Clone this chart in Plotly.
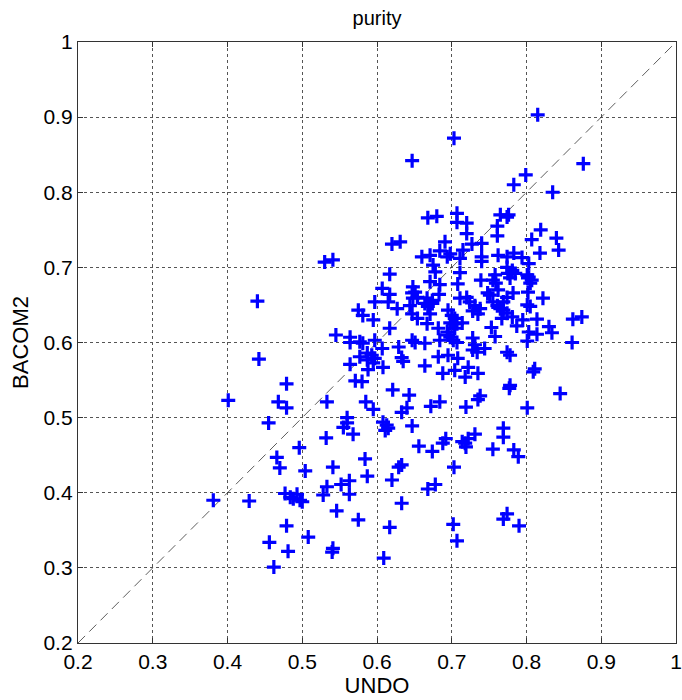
import plotly.graph_objects as go

# Per-sample purity estimates from the two methods
undo = [
    0.381, 0.440, 0.442, 0.401, 0.479, 0.468, 0.479, 0.530, 0.541, 0.545,
    0.564, 0.564, 0.564, 0.571, 0.533, 0.560, 0.455,
    0.555, 0.560, 0.568, 0.532, 0.496, 0.466, 0.470, 0.504, 0.541, 0.533,
    0.552, 0.563, 0.563, 0.528, 0.477, 0.484, 0.493, 0.497, 0.500, 0.488,
    0.429, 0.546, 0.575, 0.479, 0.508, 0.456, 0.481, 0.541, 0.540, 0.462,
    0.608, 0.613, 0.611, 0.615, 0.647, 0.584, 0.587, 0.620, 0.629, 0.633,
    0.656, 0.674, 0.688, 0.692, 0.668, 0.678, 0.703, 0.633, 0.617, 0.609,
    0.702, 0.707, 0.714, 0.718, 0.719, 0.722, 0.731, 0.755, 0.769, 0.769,
    0.783, 0.789, 0.769, 0.774, 0.790, 0.845, 0.801,
    0.803, 0.801, 0.802, 0.807, 0.805, 0.803, 0.802, 0.822, 0.801, 0.805,
    0.795, 0.814, 0.803, 0.814, 0.830, 0.834, 0.862, 0.874, 0.801, 0.861,
    0.811, 0.809,
    0.815, 0.876, 0.799, 0.835, 0.819, 0.807, 0.840, 0.818, 0.843, 0.794,
    0.703, 0.647, 0.783, 0.668, 0.680, 0.707, 0.707, 0.720, 0.720, 0.765,
    0.776, 0.774, 0.761, 0.761, 0.620, 0.631, 0.691, 0.684, 0.715, 0.727,
    0.740, 0.660, 0.671, 0.694, 0.698, 0.711, 0.740, 0.762, 0.774, 0.783,
    0.617, 0.675, 0.678, 0.711, 0.740, 0.739, 0.758, 0.755, 0.759, 0.774,
    0.781, 0.785, 0.778, 0.775, 0.782, 0.774, 0.769, 0.762, 0.748, 0.708,
    0.671, 0.684, 0.683, 0.607, 0.617, 0.615, 0.648, 0.651, 0.647, 0.654,
    0.648, 0.667, 0.674, 0.664, 0.668, 0.674, 0.597, 0.627, 0.644, 0.575,
    0.581, 0.595, 0.647, 0.654, 0.671, 0.667, 0.711, 0.720, 0.724, 0.731,
    0.738, 0.735, 0.728, 0.751, 0.755, 0.761, 0.765, 0.769, 0.774, 0.767,
    0.781, 0.787, 0.695, 0.700, 0.704, 0.702, 0.698, 0.707, 0.714, 0.704,
    0.617, 0.682, 0.753, 0.758, 0.694, 0.698, 0.702, 0.707, 0.695, 0.684,
    0.647, 0.651, 0.664, 0.581, 0.597, 0.728, 0.731, 0.728, 0.734, 0.744,
    0.774, 0.778, 0.629, 0.607, 0.587, 0.593, 0.597, 0.587, 0.595, 0.588,
    0.577, 0.577, 0.580, 0.608, 0.633, 0.635, 0.682, 0.695, 0.708, 0.664,
    0.704, 0.722, 0.688, 0.718, 0.735, 0.621, 0.643, 0.684, 0.672, 0.585,
    0.595, 0.640, 0.633, 0.719, 0.738, 0.735, 0.778, 0.777,
]
bacom2 = [
    0.390, 0.655, 0.578, 0.523, 0.545, 0.521, 0.513, 0.707, 0.710, 0.610,
    0.607, 0.600, 0.571, 0.549, 0.521, 0.500, 0.493,
    0.487, 0.493, 0.478, 0.473, 0.460, 0.447, 0.433, 0.429, 0.434, 0.408,
    0.411, 0.416, 0.398, 0.397, 0.399, 0.394, 0.398, 0.390, 0.388, 0.392,
    0.389, 0.376, 0.364, 0.356, 0.341, 0.334, 0.322, 0.326, 0.321, 0.301,
    0.494, 0.490, 0.483, 0.486, 0.489, 0.445, 0.422, 0.417, 0.434, 0.437,
    0.462, 0.455, 0.466, 0.472, 0.405, 0.411, 0.434, 0.386, 0.354, 0.313,
    0.358, 0.336, 0.468, 0.466, 0.461, 0.472, 0.478, 0.458, 0.486, 0.474,
    0.457, 0.448, 0.365, 0.372, 0.356, 0.532, 0.513,
    0.705, 0.690, 0.686, 0.683, 0.679, 0.687, 0.667, 0.659, 0.650, 0.648,
    0.630, 0.631, 0.614, 0.611, 0.621, 0.613, 0.631, 0.634, 0.602, 0.600,
    0.565, 0.561,
    0.903, 0.838, 0.823, 0.800, 0.750, 0.737, 0.739, 0.719, 0.723, 0.713,
    0.872, 0.842, 0.810, 0.766, 0.768, 0.772, 0.760, 0.759, 0.745, 0.770,
    0.770, 0.767, 0.755, 0.742, 0.731, 0.734, 0.734, 0.722, 0.723, 0.731,
    0.732, 0.714, 0.716, 0.714, 0.718, 0.712, 0.714, 0.716, 0.714, 0.719,
    0.691, 0.703, 0.694, 0.693, 0.708, 0.683, 0.690, 0.683, 0.679, 0.700,
    0.696, 0.692, 0.686, 0.692, 0.666, 0.660, 0.654, 0.670, 0.666, 0.678,
    0.681, 0.677, 0.664, 0.672, 0.664, 0.654, 0.674, 0.667, 0.666, 0.660,
    0.659, 0.659, 0.656, 0.652, 0.648, 0.652, 0.654, 0.645, 0.649, 0.643,
    0.636, 0.630, 0.638, 0.632, 0.638, 0.625, 0.659, 0.660, 0.654, 0.649,
    0.645, 0.638, 0.642, 0.663, 0.654, 0.649, 0.645, 0.643, 0.639, 0.632,
    0.634, 0.622, 0.643, 0.636, 0.632, 0.625, 0.626, 0.625, 0.626, 0.619,
    0.619, 0.619, 0.620, 0.608, 0.614, 0.607, 0.603, 0.600, 0.610, 0.603,
    0.603, 0.600, 0.599, 0.599, 0.603, 0.606, 0.597, 0.590, 0.587, 0.592,
    0.587, 0.583, 0.594, 0.592, 0.586, 0.583, 0.579, 0.577, 0.573, 0.564,
    0.601, 0.581, 0.548, 0.567, 0.580, 0.575, 0.581, 0.583, 0.579, 0.569,
    0.563, 0.567, 0.559, 0.554, 0.559, 0.537, 0.530, 0.521, 0.515, 0.521,
    0.511, 0.513, 0.507, 0.514, 0.529, 0.524, 0.543, 0.539,
]

ticks = [0.2, 0.3, 0.4, 0.5, 0.6, 0.7, 0.8, 0.9, 1.0]
tick_text = ["0.2", "0.3", "0.4", "0.5", "0.6", "0.7", "0.8", "0.9", "1"]

font_family = "Liberation Sans, Arial, sans-serif"

fig = go.Figure()

# y = x reference line
fig.add_trace(go.Scatter(
    x=[ticks[0], ticks[-1]], y=[ticks[0], ticks[-1]],
    mode="lines",
    line=dict(color="#333333", width=0.8, dash="10px,6px"),
    hoverinfo="skip", showlegend=False,
))

fig.add_trace(go.Scatter(
    x=undo, y=bacom2, mode="markers",
    marker=dict(symbol="cross-thin", size=10,
                line=dict(color="#0000ff", width=3.2)),
    showlegend=False,
))

axis_common = dict(
    range=[ticks[0], ticks[-1]],
    tickvals=ticks, ticktext=tick_text,
    showgrid=True, gridcolor="#555555", gridwidth=1, griddash="dot",
    showline=True, linecolor="#333333", linewidth=1.3, mirror="ticks",
    ticks="inside", ticklen=5, tickcolor="#333333", tickwidth=1,
    zeroline=False, automargin=False,
    tickfont=dict(family=font_family, size=21, color="#000000"),
    title_font=dict(family=font_family, size=22, color="#000000"),
    fixedrange=True,
)

fig.update_xaxes(**axis_common, title_text="UNDO", title_standoff=0)
fig.update_yaxes(**axis_common, title_text="BACOM2", title_standoff=8)

fig.update_layout(
    width=682, height=700,
    margin=dict(l=78, r=6, t=42, b=57),
    plot_bgcolor="white", paper_bgcolor="white",
    title=dict(text="purity", x=(78 + 676) / 2 / 682, xanchor="center",
               y=1 - 18 / 700, yanchor="middle",
               font=dict(family=font_family, size=20, color="#000000")),
)

fig.write_html("out.html")
